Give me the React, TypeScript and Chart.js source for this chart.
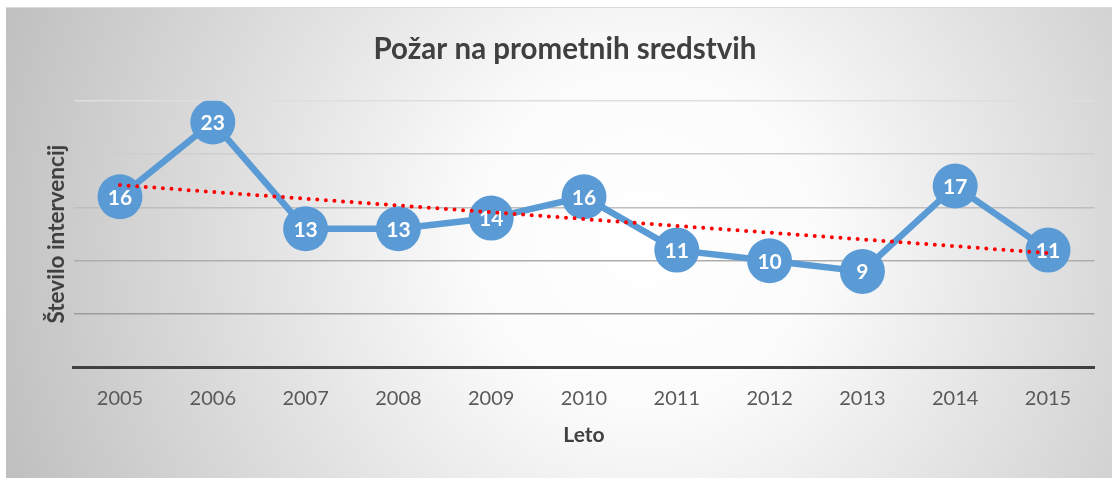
import React, { useEffect, useRef } from "react";
import { Chart, registerables } from "chart.js";

Chart.register(...registerables);

const years = ["2005", "2006", "2007", "2008", "2009", "2010", "2011", "2012", "2013", "2014", "2015"];
const interventions = [16, 23, 13, 13, 14, 16, 11, 10, 9, 17, 11];
const yTicks = [0, 5, 10, 15, 20, 25];
const gridColors = ["rgba(0,0,0,0)", "#9c9c9c", "#adadad", "#bebebe", "#cecece", "#dedede"];

const titleText = "Požar na prometnih sredstvih";
const yTitleText = "Število intervencij";
const xTitleText = "Leto";

// Linear (least-squares) trend line of the series, as in the original chart
function linearTrend(values: number[]): number[] {
  const n = values.length;
  let sx = 0, sy = 0, sxy = 0, sxx = 0;
  values.forEach((v, i) => { sx += i; sy += v; sxy += i * v; sxx += i * i; });
  const slope = (n * sxy - sx * sy) / (n * sxx - sx * sx);
  const icpt = (sy - slope * sx) / n;
  return values.map((_, i) => icpt + slope * i);
}

const FONT = "Lato, 'Open Sans', sans-serif";
const BLUE = "#5B9BD5";

export default function App() {
  const ref = useRef<HTMLCanvasElement>(null);
  useEffect(() => {
    if (!ref.current) return;
    const bgPlugin = {
      id: "bg",
      beforeDraw(chart: any) {
        const { ctx, width, height } = chart;
        ctx.save();
        const g = ctx.createRadialGradient(640, 230, 0, 640, 230, 700);
        g.addColorStop(0, "#ffffff");
        g.addColorStop(0.25, "#fbfbfb");
        g.addColorStop(1, "#bdbdbd");
        ctx.fillStyle = g;
        ctx.fillRect(0, 0, width, height);
        ctx.restore();
      },
    };
    const textPlugin = {
      id: "texts",
      afterDatasetDraw(chart: any, args: any) {
        if (args.index !== 1) return;
        const { ctx } = chart;
        const meta = chart.getDatasetMeta(1);
        ctx.save();
        ctx.fillStyle = "#ffffff";
        ctx.font = `bold 21px ${FONT}`;
        ctx.textAlign = "center";
        ctx.textBaseline = "middle";
        meta.data.forEach((pt: any, i: number) => {
          ctx.fillText(String(interventions[i]), pt.x, pt.y + 1);
        });
        ctx.restore();
      },
      afterDraw(chart: any) {
        const { ctx, chartArea } = chart;
        ctx.save();
        ctx.fillStyle = "#404040";
        ctx.textAlign = "center";
        ctx.textBaseline = "alphabetic";
        ctx.font = `bold 29.5px ${FONT}`;
        ctx.fillText(titleText, 559, 50.5);
        ctx.font = `bold 21px ${FONT}`;
        ctx.fillText(xTitleText, (chartArea.left + chartArea.right) / 2, 434.3);
        ctx.font = `bold 22.5px ${FONT}`;
        ctx.translate(57.5, (chartArea.top + chartArea.bottom) / 2);
        ctx.rotate(-Math.PI / 2);
        ctx.fillText(yTitleText, 0, 0);
        ctx.restore();
      },
    };
    const chart = new Chart(ref.current, {
      type: "line",
      data: {
        labels: years,
        datasets: [
          {
            label: "Trend",
            data: linearTrend(interventions),
            borderColor: "#FF0000",
            borderWidth: 4,
            borderDash: [0, 8.6],
            borderCapStyle: "round",
            pointRadius: 0,
            fill: false,
            tension: 0,
          },
          {
            label: "Požar na prometnih sredstvih",
            data: interventions,
            borderColor: BLUE,
            backgroundColor: BLUE,
            borderWidth: 6.5,
            pointRadius: 22.5,
            pointBackgroundColor: BLUE,
            pointBorderColor: BLUE,
            pointBorderWidth: 0,
            fill: false,
            tension: 0,
          },
        ],
      },
      options: {
        responsive: false,
        animation: false,
        events: [],
        layout: { autoPadding: false, padding: { left: 67.6, top: 92.7, right: 17.6, bottom: 70.5 } },
        plugins: { legend: { display: false }, tooltip: { enabled: false }, title: { display: false } },
        scales: {
          x: {
            type: "category",
            offset: true,
            grid: { display: false, drawTicks: false },
            border: { display: true, color: "#404040", width: 3 },
            ticks: { color: "#595959", font: { family: FONT, size: 20 }, padding: 19, maxRotation: 0 },
            afterFit(axis: any) { axis.height = 40; axis.paddingLeft = 0; axis.paddingRight = 0; },
          },
          y: {
            min: 0,
            max: 25,
            afterBuildTicks(axis: any) { axis.ticks = yTicks.map((v) => ({ value: v })); },
            ticks: { display: false },
            grid: {
              drawTicks: false,
              lineWidth: 1.5,
              color: (c: any) => gridColors[yTicks.indexOf(c.tick?.value)] ?? "#cccccc",
            },
            border: { display: false },
            afterFit(axis: any) { axis.width = 0; axis.paddingTop = 0; axis.paddingBottom = 0; },
          },
        },
      },
      plugins: [bgPlugin, textPlugin],
    } as any);
    return () => chart.destroy();
  }, []);
  return (
    <div style={{ position: "absolute", left: 6, top: 7, width: 1106, height: 470, borderTop: "1px solid #d9d9d9" }}>
      <canvas ref={ref} width={1106} height={470} style={{ display: "block", width: 1106, height: 470 }} />
    </div>
  );
}
